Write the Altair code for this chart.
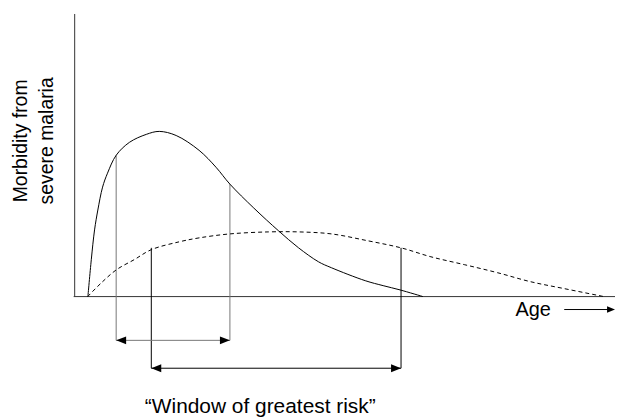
import altair as alt
import pandas as pd

# ---- data (schematic units: age 0-100, morbidity 0-100) ----
solid_age = [2.46, 3.09, 3.70, 4.31, 5.19, 6.11, 7.72, 10.19, 13.33, 15.74, 18.89,
             23.15, 26.30, 28.89, 33.33, 37.96, 41.67, 45.37, 47.78, 54.07, 57.41,
             60.56, 64.81]
solid_morb = [0.0, 13.03, 23.59, 30.63, 38.73, 43.66, 50.0, 54.58, 57.4, 58.45, 57.0,
              51.76, 45.77, 39.79, 31.34, 23.24, 17.25, 12.32, 10.21, 5.63, 3.87,
              2.36, 0.0]

dashed_age = [2.41, 5.0, 7.78, 11.11, 14.26, 19.44, 23.15, 28.89, 36.11, 41.67, 47.78,
              54.63, 60.74, 66.30, 72.59, 78.70, 84.81, 91.11, 98.52]
dashed_morb = [0.0, 4.93, 9.51, 13.1, 16.6, 19.37, 20.77, 22.18, 22.89, 22.89, 22.18,
               19.72, 17.25, 14.08, 11.27, 8.45, 5.28, 2.82, 0.0]

# windows of greatest risk (one per curve)
win_name = ["solid", "dashed"]
win_start = [7.72, 14.26]
win_end = [28.89, 60.74]
win_top_start = [50.0, 17.25]
win_top_end = [39.79, 17.25]
win_level = [-15.49, -25.35]

y_title = ["Morbidity from", "severe malaria"]
x_title = "Age"
window_label = "\u201cWindow of greatest risk\u201d"

# ---- scales ----
xs = alt.Scale(domain=[-12.41, 100.56], nice=False, zero=False)
ys = alt.Scale(domain=[-42.96, 101.76], nice=False, zero=False)
FONT = "Liberation Sans"

def X(f):
    return alt.X(f, type="quantitative", scale=xs, axis=None)

def Y(f):
    return alt.Y(f, type="quantitative", scale=ys, axis=None)

# axes lines
axes_df = pd.DataFrame({"x": [0.0, -0.19], "x2": [0.0, 100.56],
                        "y": [0.0, 0.0], "y2": [100.0, 0.0]})
axes = alt.Chart(axes_df).mark_rule(color="#333333", strokeWidth=1).encode(
    x=X("x"), x2="x2", y=Y("y"), y2="y2")

solid_df = pd.DataFrame({"age": solid_age, "morb": solid_morb})
dashed_df = pd.DataFrame({"age": dashed_age, "morb": dashed_morb})

solid = alt.Chart(solid_df).mark_line(color="black", strokeWidth=1,
                                      interpolate="catmull-rom").encode(
    x=X("age"), y=Y("morb"), order="age:Q")
dashed = alt.Chart(dashed_df).mark_line(color="black", strokeWidth=1,
                                        strokeDash=[4, 3],
                                        interpolate="catmull-rom").encode(
    x=X("age"), y=Y("morb"), order="age:Q")

win_df = pd.DataFrame({"name": win_name, "start": win_start, "end": win_end,
                       "top_s": win_top_start, "top_e": win_top_end,
                       "level": win_level})
col = alt.Color("name:N", scale=alt.Scale(domain=["solid", "dashed"],
                                          range=["#777777", "#000000"]),
                legend=None)

v_start = alt.Chart(win_df).mark_rule(strokeWidth=1).encode(
    x=X("start"), y=Y("top_s"), y2="level", color=col)
v_end = alt.Chart(win_df).mark_rule(strokeWidth=1).encode(
    x=X("end"), y=Y("top_e"), y2="level", color=col)
h_line = alt.Chart(win_df).mark_rule(strokeWidth=1).encode(
    x=X("start"), x2="end", y=Y("level"), color=col)

LEFT_HEAD = "M0,0 L2,-0.8 L2,0.8 Z"
RIGHT_HEAD = "M0,0 L-2,-0.8 L-2,0.8 Z"
head_l = alt.Chart(win_df).mark_point(shape=LEFT_HEAD, size=100, filled=True,
                                      color="black", opacity=1).encode(
    x=X("start"), y=Y("level"))
head_r = alt.Chart(win_df).mark_point(shape=RIGHT_HEAD, size=100, filled=True,
                                      color="black", opacity=1).encode(
    x=X("end"), y=Y("level"))

# Age label with arrow
age_df = pd.DataFrame({"t": [x_title], "x": [82.04], "y": [-7.04]})
age_text = alt.Chart(age_df).mark_text(align="left", baseline="alphabetic",
                                       font=FONT, fontSize=20, color="black").encode(
    x=X("x"), y=Y("y"), text="t:N")
arrow_df = pd.DataFrame({"x": [91.11], "x2": [99.8], "y": [-4.58], "tip": [100.56]})
age_arrow = alt.Chart(arrow_df).mark_rule(color="black", strokeWidth=1).encode(
    x=X("x"), x2="x2", y=Y("y"))
age_head = alt.Chart(arrow_df).mark_point(shape=RIGHT_HEAD, size=64, filled=True,
                                          color="black", opacity=1).encode(
    x=X("tip"), y=Y("y"))

# y title (two lines, rotated)
yt_df = pd.DataFrame({"x": [-8.94], "y": [55.1]})
y_text = alt.Chart(yt_df).mark_text(text=y_title, angle=270, align="center",
                                    baseline="alphabetic", lineHeight=26.6,
                                    font="Liberation Sans Narrow, Liberation Sans",
                                    fontSize=19.5, color="black").encode(
    x=X("x"), y=Y("y"))

# window label
wl_df = pd.DataFrame({"t": [window_label], "x": [34.54], "y": [-41.2]})
w_text = alt.Chart(wl_df).mark_text(align="center", baseline="alphabetic",
                                    font=FONT, fontSize=21, color="black").encode(
    x=X("x"), y=Y("y"), text="t:N")

chart = alt.layer(axes, v_start, v_end, h_line, head_l, head_r, dashed, solid,
                  age_arrow, age_head, age_text, y_text, w_text).properties(
    width=610, height=411, padding=0, background="white",
    autosize=alt.AutoSizeParams(type="none"),
).configure_view(stroke=None)

chart.save("out.html", embed_options={"renderer": "svg", "actions": False})
